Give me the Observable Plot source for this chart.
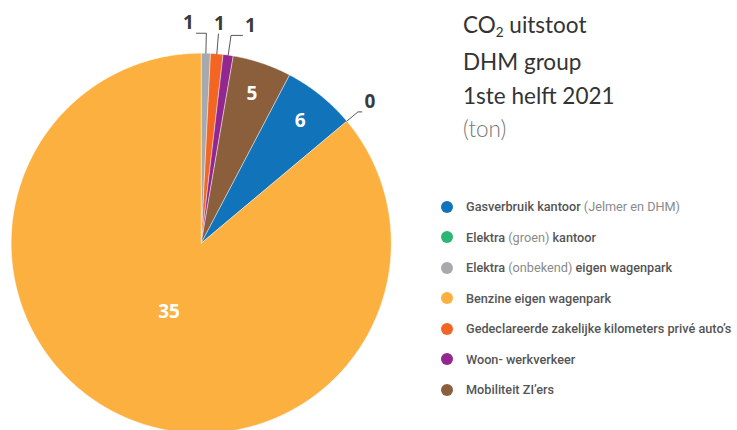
<!DOCTYPE html>
<html><head><meta charset="utf-8">
<script src="https://cdn.jsdelivr.net/npm/d3@7"></script>
<script src="https://cdn.jsdelivr.net/npm/@observablehq/plot@0.6"></script>
<style>
html,body{margin:0;padding:0;background:#fff;}
#wrap{position:relative;width:737px;height:430px;overflow:hidden;background:#fff;}
#chart{position:absolute;left:0;top:0;}
#title{position:absolute;left:463px;top:8px;font-family:Lato,"Open Sans",sans-serif;font-size:22.5px;line-height:33.3px;color:#333;white-space:nowrap;}
#title .unit{color:#777;font-weight:300;}
#title sub{font-size:0.6em;vertical-align:baseline;position:relative;top:0.3em;}
#legend{position:absolute;left:440.7px;top:191.5px;font-family:Roboto,sans-serif;font-size:12.7px;white-space:nowrap;}
.row{height:30.5px;display:flex;align-items:center;}
.dot{width:12px;height:12px;border-radius:50%;margin-right:13.3px;flex:none;}
.b{font-weight:500;color:#555;}
.l{font-weight:400;color:#8a8a8a;}
</style>
</head><body>
<div id="wrap">
  <div id="chart"></div>
  <div id="title">CO<sub>2</sub> uitstoot<br>DHM group<br>1ste helft 2021<br><span class="unit">(ton)</span></div>
  <div id="legend"></div>
</div>
<script>
// Categories in legend order
const categories = [
  "Gasverbruik kantoor (Jelmer en DHM)",
  "Elektra (groen) kantoor",
  "Elektra (onbekend) eigen wagenpark",
  "Benzine eigen wagenpark",
  "Gedeclareerde zakelijke kilometers privé auto’s",
  "Woon- werkverkeer",
  "Mobiliteit ZI’ers"
];
// Shares as drawn
const shares = [6.2, 0, 0.78, 86.1, 1.06, 0.86, 5.0];
// Data labels as printed on the chart
const valueLabels = ["6", "0", "1", "35", "1", "1", "5"];
const colors = ["#1174BB", "#2BB673", "#A7A9AC", "#FBB040", "#F26522", "#92278F", "#8B5E3C"];
// Clockwise drawing order of the slices starting at 12 o'clock
const pieOrder = [2, 4, 5, 6, 0, 1, 3];

const R = 190, cx = 200.7, cy = 242.7;

const rows = pieOrder.map(i => ({key: categories[i], share: shares[i], label: valueLabels[i], color: colors[i]}));
const arcs = d3.pie().sort(null).value(d => d.share)(rows);
const total = d3.sum(shares);

const polys = [];
arcs.forEach(a => {
  const span = a.endAngle - a.startAngle;
  if (span <= 0) return;
  const n = Math.max(2, Math.ceil(span / (Math.PI / 360)));
  const base = {key: a.data.key, color: a.data.color};
  polys.push({...base, x: 0, y: 0});
  for (let j = 0; j <= n; j++) {
    const t = a.startAngle + span * j / n;
    polys.push({...base, x: Math.sin(t), y: Math.cos(t)});
  }
  polys.push({...base, x: 0, y: 0});
});

const labels = arcs.map(a => {
  const mid = (a.startAngle + a.endAngle) / 2;
  const frac = a.data.share / total;
  const outside = frac < 0.03;
  const r = outside ? 1.158 : frac > 0.5 ? 0.4 : 0.83;
  return {text: a.data.label, mid, outside, x: r * Math.sin(mid), y: r * Math.cos(mid)};
});

// spread crowded outside labels horizontally
const outs = labels.filter(d => d.outside).sort((a, b) => a.x - b.x);
const gap = 31 / R;
const groups = [];
outs.forEach(d => {
  const g = groups[groups.length - 1];
  if (g && d.x - g[g.length - 1].x < gap) g.push(d); else groups.push([d]);
});
groups.forEach(g => {
  const m = d3.mean(g, d => d.x);
  g.forEach((d, i) => { d.x = m + (i - (g.length - 1) / 2) * gap; });
});

const leaders = [];
outs.forEach((d, k) => {
  const ax = Math.sin(d.mid), ay = Math.cos(d.mid);
  const ey = d.y - 10 / R;
  const bx = ey * Math.tan(d.mid);
  const dx = d.x - bx;
  const ex = Math.abs(dx) < 8 / R ? bx : d.x - Math.sign(dx) * 8 / R;
  leaders.push({k, x: ax, y: ay}, {k, x: bx, y: ey}, {k, x: ex, y: ey});
});

const plot = Plot.plot({
  width: 420,
  height: 430,
  margin: 0,
  x: {domain: [-1, 1], range: [cx - R, cx + R], axis: null},
  y: {domain: [-1, 1], range: [cy + R, cy - R], axis: null},
  color: {type: "identity"},
  style: {background: "transparent", overflow: "visible"},
  marks: [
    Plot.line(polys, {x: "x", y: "y", z: "key", fill: "color", stroke: "white", strokeWidth: 0.6, strokeOpacity: 0.7, curve: "linear"}),
    Plot.line(leaders, {x: "x", y: "y", z: "k", stroke: "#444", strokeWidth: 0.9, curve: "linear"}),
    Plot.text(labels, {x: "x", y: "y", text: "text", fill: d => d.outside ? "#3a3a3a" : "#ffffff",
      fontSize: 19, fontWeight: 700, fontFamily: "Open Sans"})
  ]
});
document.getElementById("chart").appendChild(plot);

const legend = document.getElementById("legend");
categories.forEach((c, i) => {
  const row = document.createElement("div");
  row.className = "row";
  const dot = document.createElement("span");
  dot.className = "dot";
  dot.style.background = colors[i];
  row.appendChild(dot);
  const txt = document.createElement("span");
  c.split(/(\([^)]*\))/).filter(s => s.length).forEach(part => {
    const s = document.createElement("span");
    s.className = part.startsWith("(") ? "l" : "b";
    s.textContent = part;
    txt.appendChild(s);
  });
  row.appendChild(txt);
  legend.appendChild(row);
});
</script>
</body></html>
